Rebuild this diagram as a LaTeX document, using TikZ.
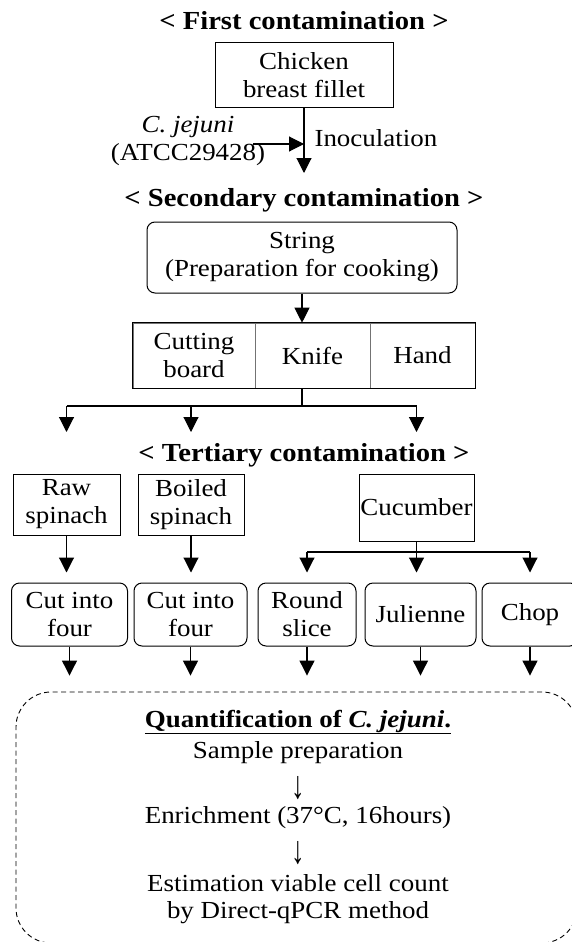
\documentclass[tikz,border=0pt]{standalone}
\usepackage{fontspec}
\usepackage{graphicx}
\setmainfont{Liberation Serif}[FakeStretch=1.1]
\usetikzlibrary{arrows.meta}
\tikzset{
  box/.style={draw, line width=1pt, inner sep=0pt, align=center},
  rbox/.style={box, rounded corners=8pt},
  cell/.style={draw=black!55, line width=0.6pt, inner sep=0pt, align=center},
  stage/.style={font=\fontsize{26}{30}\selectfont\bfseries},
  arr/.style={line width=1.1pt, -{Triangle[width=15pt,length=15pt]}},
  wire/.style={line width=1.1pt},
}
\newcommand{\tallarrow}{\scalebox{1}[1.6]{↓}}

\begin{document}
\begin{tikzpicture}[x=1pt, y=-1pt, font=\fontsize{24.5}{28}\selectfont]
			%%%%% START %%%%%
			\useasboundingbox (0,0) rectangle (572,942);
			\clip (0,0) rectangle (572,942);
			
			% first contamination
			\node[stage] (first) at (304,21) {< First contamination >};
			\node[box, minimum width=178, minimum height=64] (chicken) at (304,75) {Chicken\\breast fillet};
			\coordinate (chickenend) at (304,173);
			\draw[arr] (chicken.south) -- (chickenend);
			\node[anchor=west] (inoc) at (311,138) {Inoculation};
			\node[align=center] (cj) at (188,141) {\textit{C. jejuni}\\(ATCC29428)};
			\coordinate (cjstart) at (253,144);
			\draw[arr] (cjstart) -- (cjstart -| chicken.south);
			
			% secondary contamination
			\node[stage] (second) at (304,200) {< Secondary contamination >};
			\node[rbox, minimum width=310, minimum height=71] (string) at (302,257.5) {String\\(Preparation for cooking)};
			\node[cell, minimum width=122, minimum height=65] (cutting) at (194,355.5) {Cutting\\board};
			\node[cell, minimum width=115, minimum height=65] (knife) at (312.5,355.5) {Knife};
			\node[cell, minimum width=105, minimum height=65] (hand) at (422.5,355.5) {Hand};
			\draw[line width=1pt] (cutting.north west) rectangle (hand.south east);
			\draw[arr] (string.south) -- (string.south |- knife.north);
			
			% tertiary contamination
			\node[stage] (third) at (304,455) {< Tertiary contamination >};
			\node[box, minimum width=107, minimum height=61] (raw) at (66.5,504.5) {Raw\\spinach};
			\node[box, minimum width=106, minimum height=61] (boiled) at (191,504.5) {Boiled\\spinach};
			\node[box, minimum width=115, minimum height=67] (cucumber) at (416.5,507.5) {Cucumber};
			
			\coordinate (fork) at (302,406);
			\draw[wire] (fork |- knife.south) -- (fork);
			\draw[wire] (raw.north |- fork) -- (cucumber.north |- fork);
			\draw[arr] (raw.north |- fork) -- ++(0,26);
			\draw[arr] (boiled.north |- fork) -- ++(0,26);
			\draw[arr] (cucumber.north |- fork) -- ++(0,26);
			
			\node[rbox, minimum width=116, minimum height=63] (cut1) at (69.5,614.5) {Cut into\\four};
			\node[rbox, minimum width=113, minimum height=63] (cut2) at (190.5,614.5) {Cut into\\four};
			\node[rbox, minimum width=98, minimum height=63] (round) at (307,614.5) {Round\\slice};
			\node[rbox, minimum width=111, minimum height=63] (julienne) at (420.5,614.5) {Julienne};
			\node[rbox, minimum width=96, minimum height=63] (chop) at (530,614.5) {Chop};
			
			\draw[arr] (raw.south) -- ([yshift=10pt]raw.south |- cut1.north);
			\draw[arr] (boiled.south) -- ([yshift=10pt]boiled.south |- cut2.north);
			\coordinate (cfork) at (416.5,552);
			\draw[wire] (cucumber.south) -- (cfork);
			\draw[wire] (round.north |- cfork) -- (chop.north |- cfork);
			\draw[arr] (round.north |- cfork) -- ([yshift=10pt]round.north);
			\draw[arr] (cfork) -- ([yshift=10pt]cfork |- julienne.north);
			\draw[arr] (chop.north |- cfork) -- ([yshift=10pt]chop.north);
			
			% quantification
			\node[draw, line width=0.9pt, dash pattern=on 5pt off 3.5pt, rounded corners=35pt,
			      minimum width=561, minimum height=251, inner sep=0pt] (quant) at (296.5,817.5) {};
			\foreach \b in {cut1,cut2,round,julienne,chop}
			  \draw[arr] (\b.south) -- ([yshift=16pt]\b.south |- quant.north);
			
			\node (qtitle) at (298,722) {\bfseries\underline{Quantification of \textit{C. jejuni}.}};
			\node (sample) at (298,753) {Sample preparation};
			\node (down1) at (298,788) {\tallarrow};
			\node (enrich) at (298,818) {Enrichment (37°C, 16hours)};
			\node (down2) at (298,853) {\tallarrow};
			\node (estim) at (298,883) {Estimation viable cell count};
			\node (qpcr) at (298,913) {by Direct-qPCR method};
			%%%%% END %%%%%
\end{tikzpicture}
\end{document}
